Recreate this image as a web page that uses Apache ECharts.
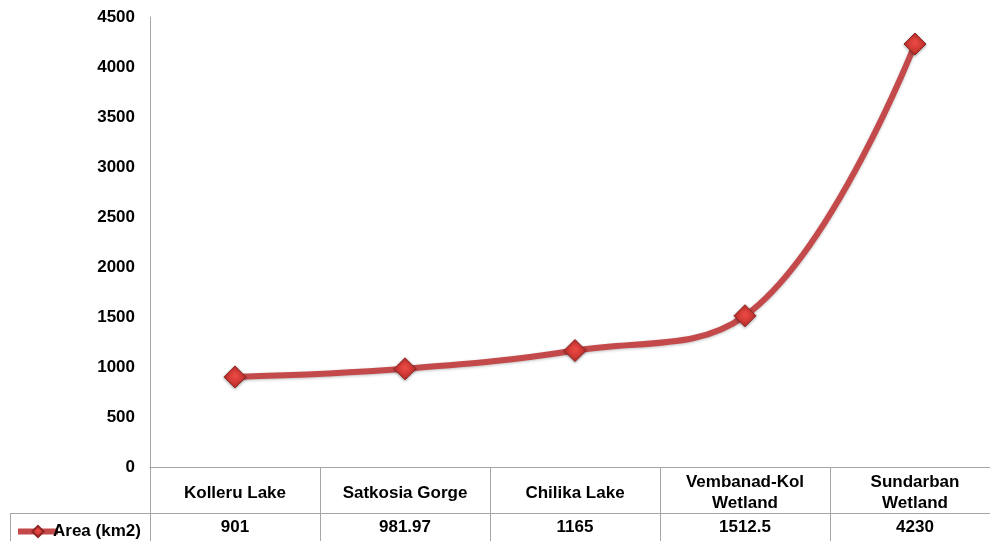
<!DOCTYPE html>
<html>
<head>
<meta charset="utf-8">
<script src="https://cdn.jsdelivr.net/npm/echarts@6/dist/echarts.min.js"></script>
<style>
  html, body { margin: 0; padding: 0; background: #fff; overflow: hidden; }
  #chart { width: 1000px; height: 541px; }
</style>
</head>
<body>
<div id="chart"></div>
<script>
// Wetland sites and their areas
const categories = ['Kolleru Lake', 'Satkosia Gorge', 'Chilika Lake', 'Vembanad-Kol\nWetland', 'Sundarban\nWetland'];
const areaKm2 = [901, 981.97, 1165, 1512.5, 4230];
const seriesName = 'Area (km2)';
const yTicks = { min: 0, max: 4500, interval: 500 };

const chart = echarts.init(document.getElementById('chart'));

const tableLine = '#a6a6a6';
const font = 'Arial, "Liberation Sans", sans-serif';
const fontSize = 17;

chart.setOption({
  animation: false,
  backgroundColor: '#ffffff',
  grid: { left: 150, top: 17, right: 0, bottom: 74 },
  legend: {
    left: 10,
    top: 518,
    itemWidth: 40,
    itemHeight: 14,
    itemGap: 0,
    lineStyle: { width: 6 },
    textStyle: { fontFamily: font, fontWeight: 'bold', fontSize: fontSize, color: '#000', padding: [0, 0, 0, -10] },
    data: [seriesName]
  },
  xAxis: [
    {
      type: 'category',
      data: categories,
      boundaryGap: true,
      position: 'bottom',
      axisLine: { lineStyle: { color: tableLine, width: 1 } },
      axisTick: { show: true, length: 74, inside: false, lineStyle: { color: tableLine, width: 1 } },
      axisLabel: {
        interval: 0,
        margin: 26,
        verticalAlign: 'middle',
        lineHeight: 21,
        fontFamily: font,
        fontWeight: 'bold',
        fontSize: fontSize,
        color: '#000'
      },
      splitLine: { show: false }
    },
    {
      type: 'category',
      data: areaKm2.map(v => String(v)),
      boundaryGap: true,
      position: 'bottom',
      axisLine: { show: false },
      axisTick: { show: false },
      axisLabel: {
        interval: 0,
        margin: 60,
        verticalAlign: 'middle',
        fontFamily: font,
        fontWeight: 'bold',
        fontSize: fontSize,
        color: '#000'
      },
      splitLine: { show: false }
    }
  ],
  yAxis: {
    type: 'value',
    min: yTicks.min,
    max: yTicks.max,
    interval: yTicks.interval,
    axisLine: { show: true, lineStyle: { color: tableLine, width: 1 } },
    axisTick: { show: false },
    splitLine: { show: false },
    axisLabel: {
      margin: 15,
      formatter: v => String(v),
      fontFamily: font,
      fontWeight: 'bold',
      fontSize: fontSize,
      color: '#000'
    }
  },
  graphic: [
    // row separator between category headers and the value row
    { type: 'line', silent: true, shape: { x1: 10, y1: 513.5, x2: 1000, y2: 513.5 }, style: { stroke: tableLine, lineWidth: 1 } },
    // left border of the value row
    { type: 'line', silent: true, shape: { x1: 10.5, y1: 513, x2: 10.5, y2: 541 }, style: { stroke: tableLine, lineWidth: 1 } }
  ],
  series: [
    {
      name: seriesName,
      type: 'line',
      data: areaKm2,
      smooth: 0.4,
      symbol: 'diamond',
      symbolSize: 22,
      lineStyle: {
        color: '#c4494a',
        width: 6,
        shadowColor: 'rgba(0,0,0,0.25)',
        shadowBlur: 3,
        shadowOffsetY: 1
      },
      itemStyle: {
        color: new echarts.graphic.RadialGradient(0.5, 0.45, 0.6, [
          { offset: 0, color: '#ee4a44' },
          { offset: 1, color: '#b52a28' }
        ]),
        borderColor: '#8e2624',
        borderWidth: 1,
        shadowColor: 'rgba(0,0,0,0.35)',
        shadowBlur: 3,
        shadowOffsetY: 1
      },
      emphasis: { disabled: true },
      z: 3
    }
  ]
});
</script>
</body>
</html>
